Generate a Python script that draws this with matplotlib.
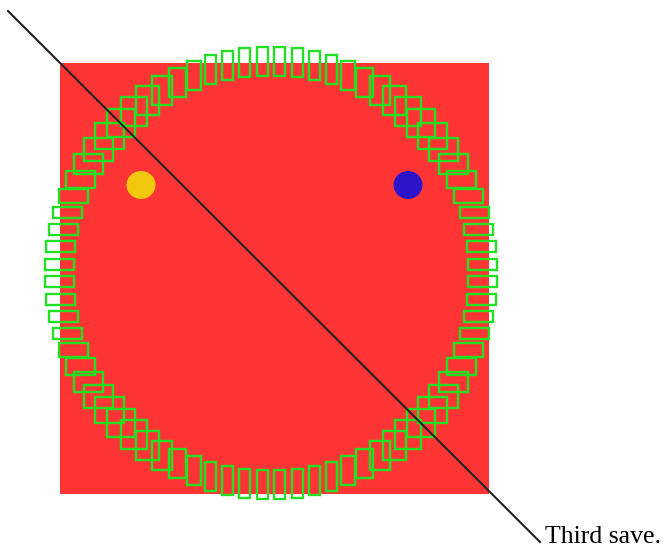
import numpy as np
import matplotlib
matplotlib.use("Agg")
import matplotlib.pyplot as plt
from matplotlib.patches import Rectangle, Ellipse

# Scene values (pixel space of the picture)
square_box = [60, 63, 429, 431]        # x, y, width, height
ring_center = [271, 273]
ring_radius = 212
ring_count = 76
rect_min = 11
rect_max = 29
rect_gain = 39
dots_x = [141, 408]
dots_y = [185, 185]
dots_colors = ["#F2C80F", "#2C14C8"]
line_x = [8, 540]
line_y = [11, 542]
label = "Third save."

fig = plt.figure(figsize=(6.69, 5.51), dpi=100)
ax = fig.add_axes([0, 0, 1, 1])
ax.set_xlim(0, 669)
ax.set_ylim(551, 0)
ax.axis("off")

ax.add_patch(Rectangle((square_box[0], square_box[1]), square_box[2], square_box[3],
                       facecolor="#FF3535", edgecolor="none", zorder=1))

theta = (np.arange(ring_count) + 0.5) * 2 * np.pi / ring_count
for t in theta:
    cx = ring_center[0] + ring_radius * np.cos(t)
    cy = ring_center[1] + ring_radius * np.sin(t)
    w = np.clip(rect_gain * np.abs(np.cos(t)), rect_min, rect_max)
    h = np.clip(rect_gain * np.abs(np.sin(t)), rect_min, rect_max)
    ax.add_patch(Rectangle((cx - w / 2, cy - h / 2), w, h, facecolor="none",
                           edgecolor="#22E022", linewidth=1.7, zorder=2))

for x, y, c in zip(dots_x, dots_y, dots_colors):
    ax.add_patch(Ellipse((x, y), 29, 28, facecolor=c, edgecolor="none", zorder=3))

ax.plot(line_x, line_y, color="#222222", linewidth=1.5, zorder=4)

ax.text(545, 543, label, fontsize=18.5, family="Liberation Serif",
        ha="left", va="baseline", color="black", zorder=5)

fig.savefig("out.png", dpi=100)
